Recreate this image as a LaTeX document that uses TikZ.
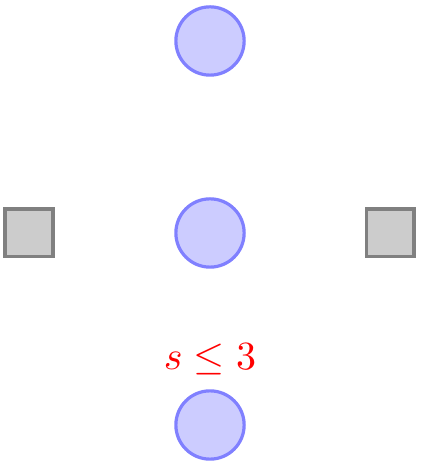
\documentclass[tikz,border=0pt]{standalone}
\usetikzlibrary{positioning}

\begin{document}
\begin{tikzpicture}[
  x=1pt,y=1pt,
  place/.style={circle,draw=blue!50,fill=blue!20,thick,minimum size=6mm,inner sep=0pt},
  transition/.style={rectangle,draw=black!50,fill=black!20,thick,minimum size=4.2mm,inner sep=0pt}
]
\useasboundingbox (0,0) rectangle (105,117);

% places in the middle column
\node[place] (waiting) at (52.5,106.75) {};
\node[place] (critical) at (52.5,58.75) {};
\node[place,label={[red,font=\fontsize{10.4}{12}\selectfont]above:$s\le 3$}] (semaphore) at (52.5,10.75) {};

% transitions left and right
\node[transition] (enter) at (7.25,58.75) {};
\node[transition] (leave) at (97.5,58.75) {};

\end{tikzpicture}
\end{document}
